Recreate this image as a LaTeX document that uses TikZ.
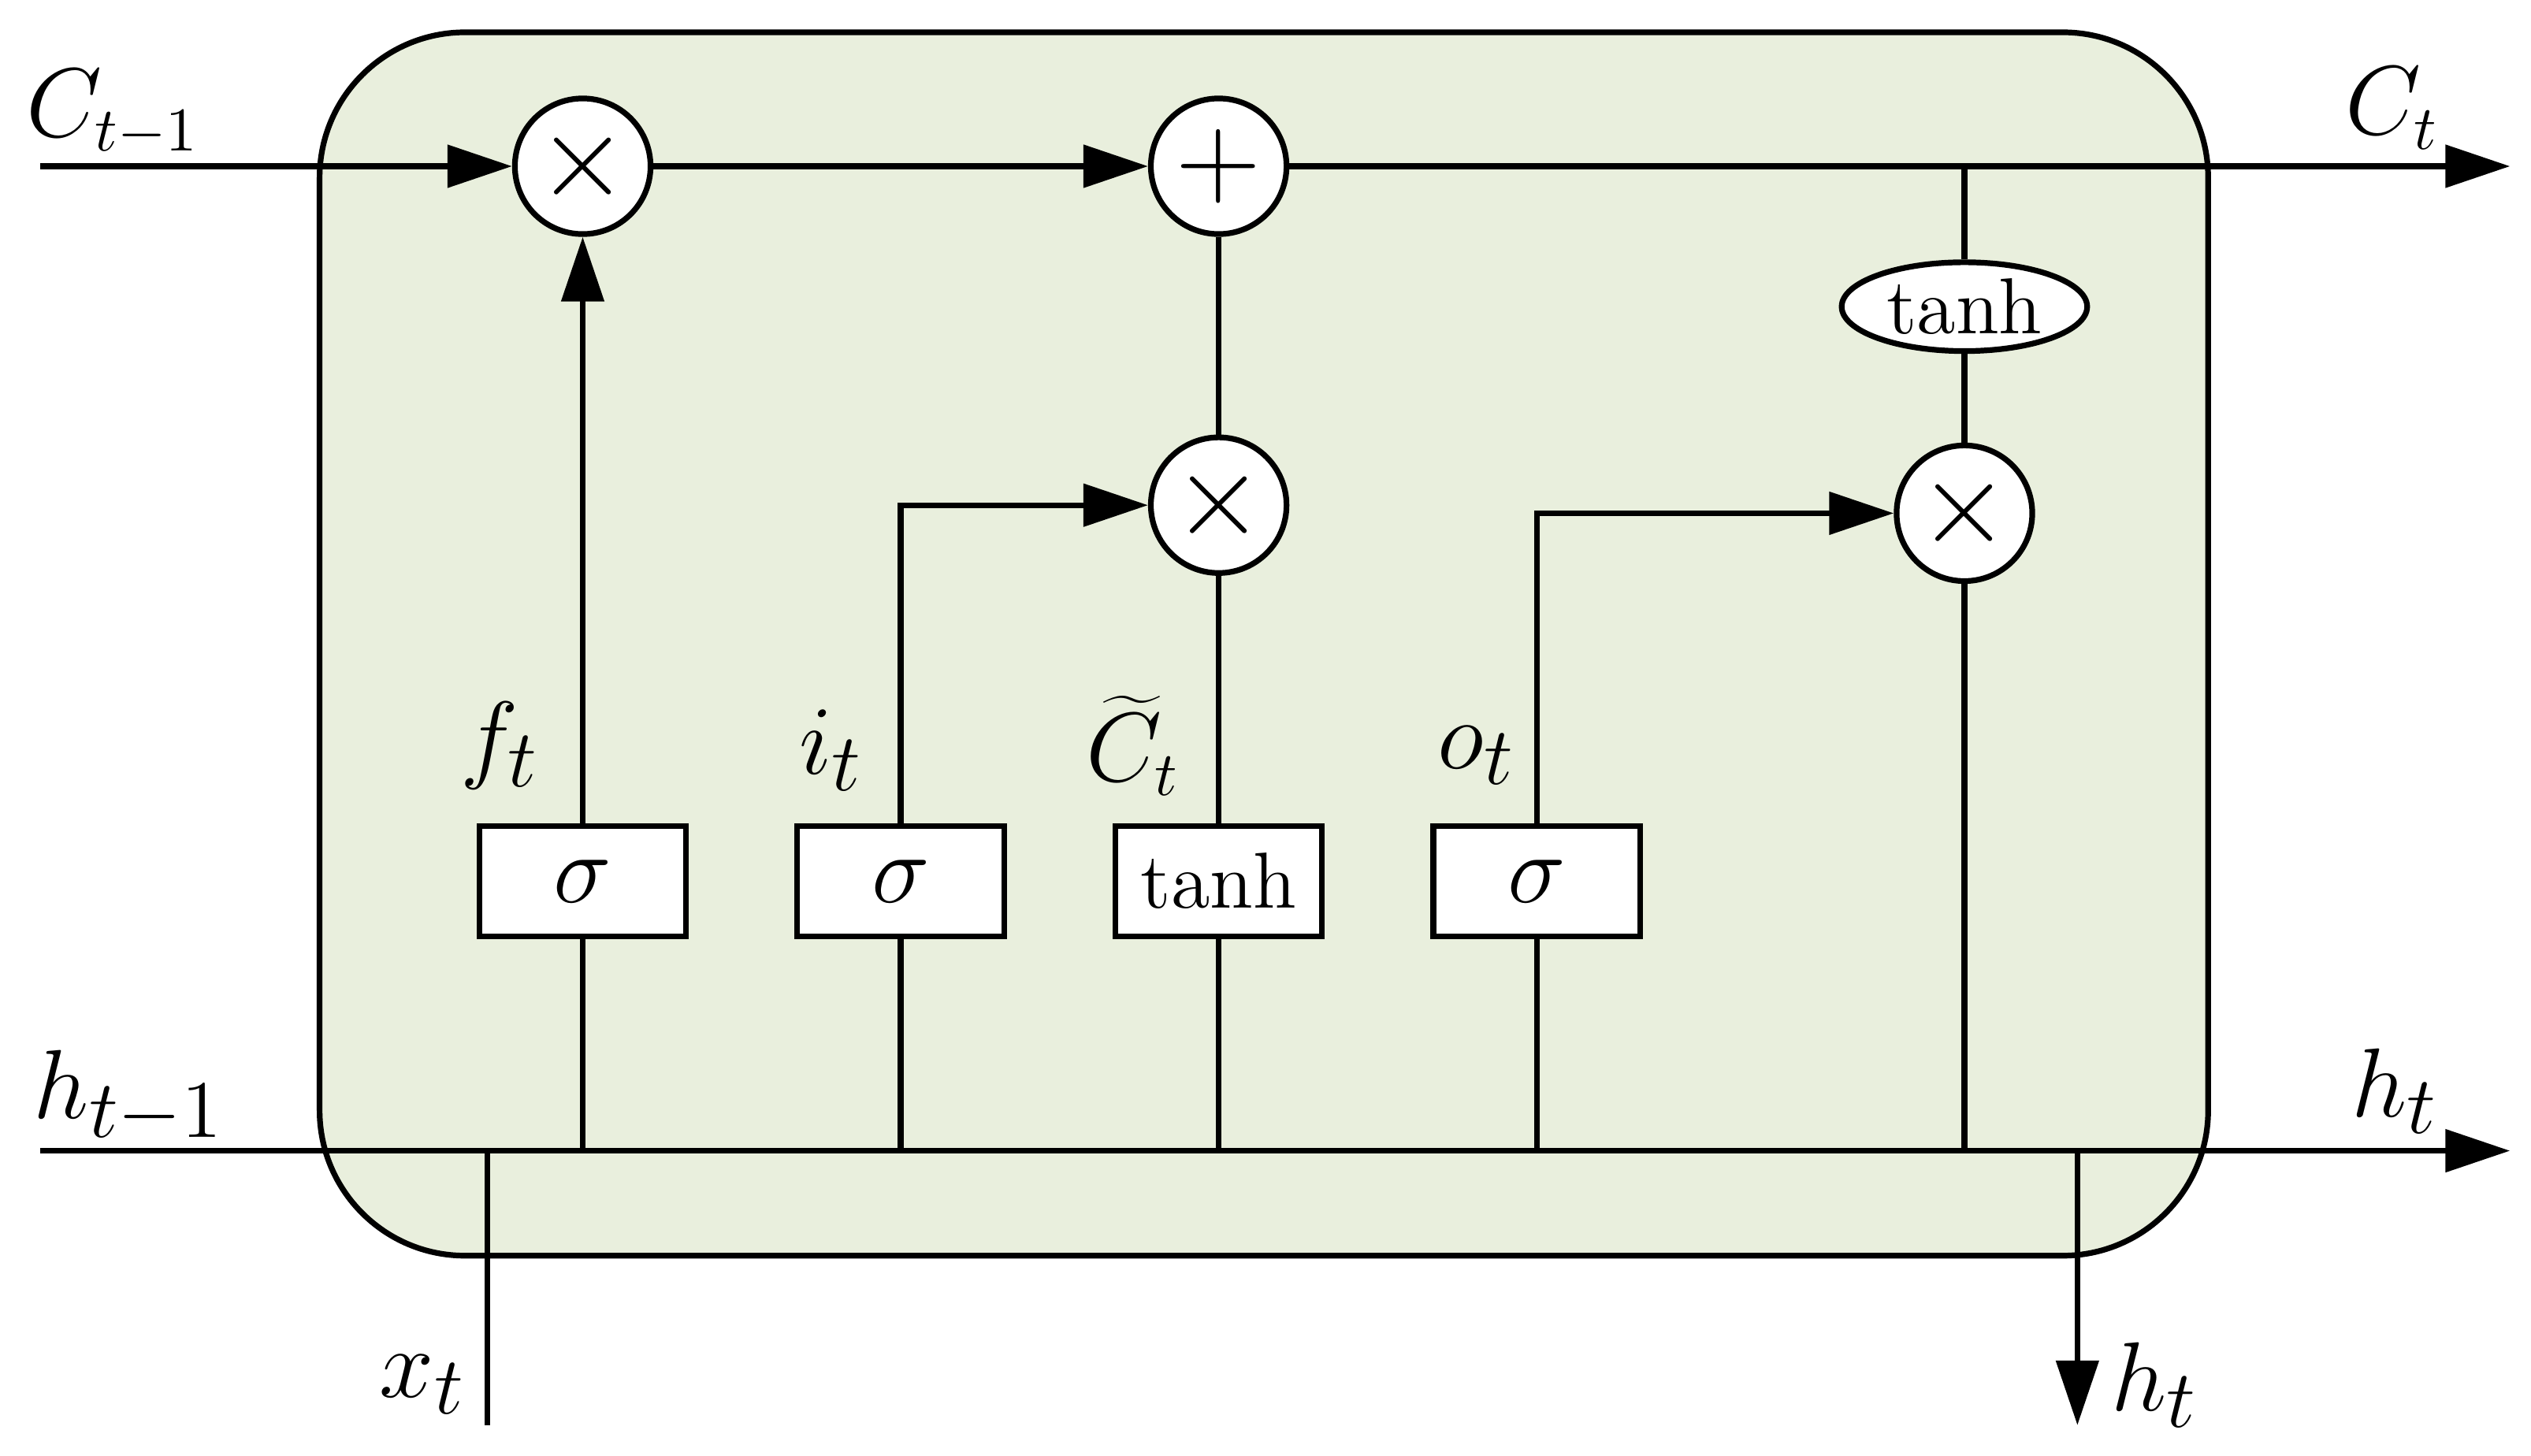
\documentclass[tikz,border=0pt]{standalone}
\usetikzlibrary{arrows.meta,shapes.geometric}
\definecolor{cellbg}{RGB}{233,239,221}
\begin{document}
\begin{tikzpicture}[x=0.01cm,y=-0.01cm,
  ln/.style={line width=1pt},
  ar/.style={ln,-{Triangle[length=4mm,width=2.6mm]}},
  op/.style={circle,draw,line width=1pt,fill=white,minimum size=0.84cm,inner sep=0pt,font=\fontsize{22}{24}\selectfont},
  box/.style={draw,line width=1pt,fill=white,minimum width=1.28cm,minimum height=0.68cm,inner sep=0pt},
  lab/.style={font=\fontsize{19}{22}\selectfont},
  fn/.style={font=\fontsize{14}{16}\selectfont}]
\useasboundingbox (0,0) rectangle (1568,902);
\draw[ln,fill=cellbg,rounded corners=0.9cm] (198,20) rectangle (1368,778);
% nodes
\node[op] (m1) at (361,103) {$\times$};
\node[op] (p) at (755,103) {$+$};
\node[op] (m2) at (755,313) {$\times$};
\node[op] (m3) at (1217,318) {$\times$};
\node[draw,ellipse,line width=1pt,fill=white,minimum width=1.52cm,minimum height=0.55cm,inner sep=0pt,fn] (th) at (1217,190) {tanh};
\node[box,lab] (bf) at (361,546) {$\sigma$};
\node[box,lab] (bi) at (558,546) {$\sigma$};
\node[box,fn] (bc) at (755,546) {tanh};
\node[box,lab] (bo) at (952,546) {$\sigma$};
\coordinate (cin) at (25,103);
\coordinate (cout) at (1555,103);
\coordinate (ctap) at (1217,103);
\coordinate (hin) at (25,713);
\coordinate (hout) at (1555,713);
\coordinate (xin) at (302,883);
\coordinate (xj) at (302,713);
\coordinate (hj) at (1287,713);
\coordinate (hdown) at (1287,883);
\coordinate (hf) at (361,713);
\coordinate (hi) at (558,713);
\coordinate (hc) at (755,713);
\coordinate (ho) at (952,713);
\coordinate (h3) at (1217,713);
% connectors
\draw[ar] (cin) -- (m1);
\draw[ar] (m1) -- (p);
\draw[ar] (p) -- (cout);
\draw[ln] (ctap) -- (th);
\draw[ln] (th) -- (m3);
\draw[ln] (m3) -- (h3);
\draw[ar] (hin) -- (hout);
\draw[ln] (xin) -- (xj);
\draw[ar] (hj) -- (hdown);
\draw[ar] (bf) -- (m1);
\draw[ln] (hf) -- (bf);
\draw[ln] (hi) -- (bi);
\draw[ln] (hc) -- (bc);
\draw[ln] (ho) -- (bo);
\draw[ar] (bi.north) |- (m2);
\draw[ln] (bc) -- (m2);
\draw[ln] (m2) -- (p);
\draw[ar] (bo.north) |- (m3);
% labels
\node[font=\fontsize{16}{18}\selectfont] (l1) at (70,70) {$C_{t-1}$};
\node[font=\fontsize{16}{18}\selectfont] (l2) at (1482,67) {$C_t$};
\node[lab] (l3) at (80,680) {$h_{t-1}$};
\node[lab] (l4) at (1484,676) {$h_t$};
\node[lab] (l5) at (310,462) {$f_t$};
\node[lab] (l6) at (515,465) {$i_t$};
\node[font=\fontsize{16}{18}\selectfont] (l7) at (702,462) {$\widetilde{C}_t$};
\node[lab] (l8) at (915,468) {$o_t$};
\node[lab] (l9) at (262,858) {$x_t$};
\node[lab] (l10) at (1335,858) {$h_t$};
\end{tikzpicture}
\end{document}
